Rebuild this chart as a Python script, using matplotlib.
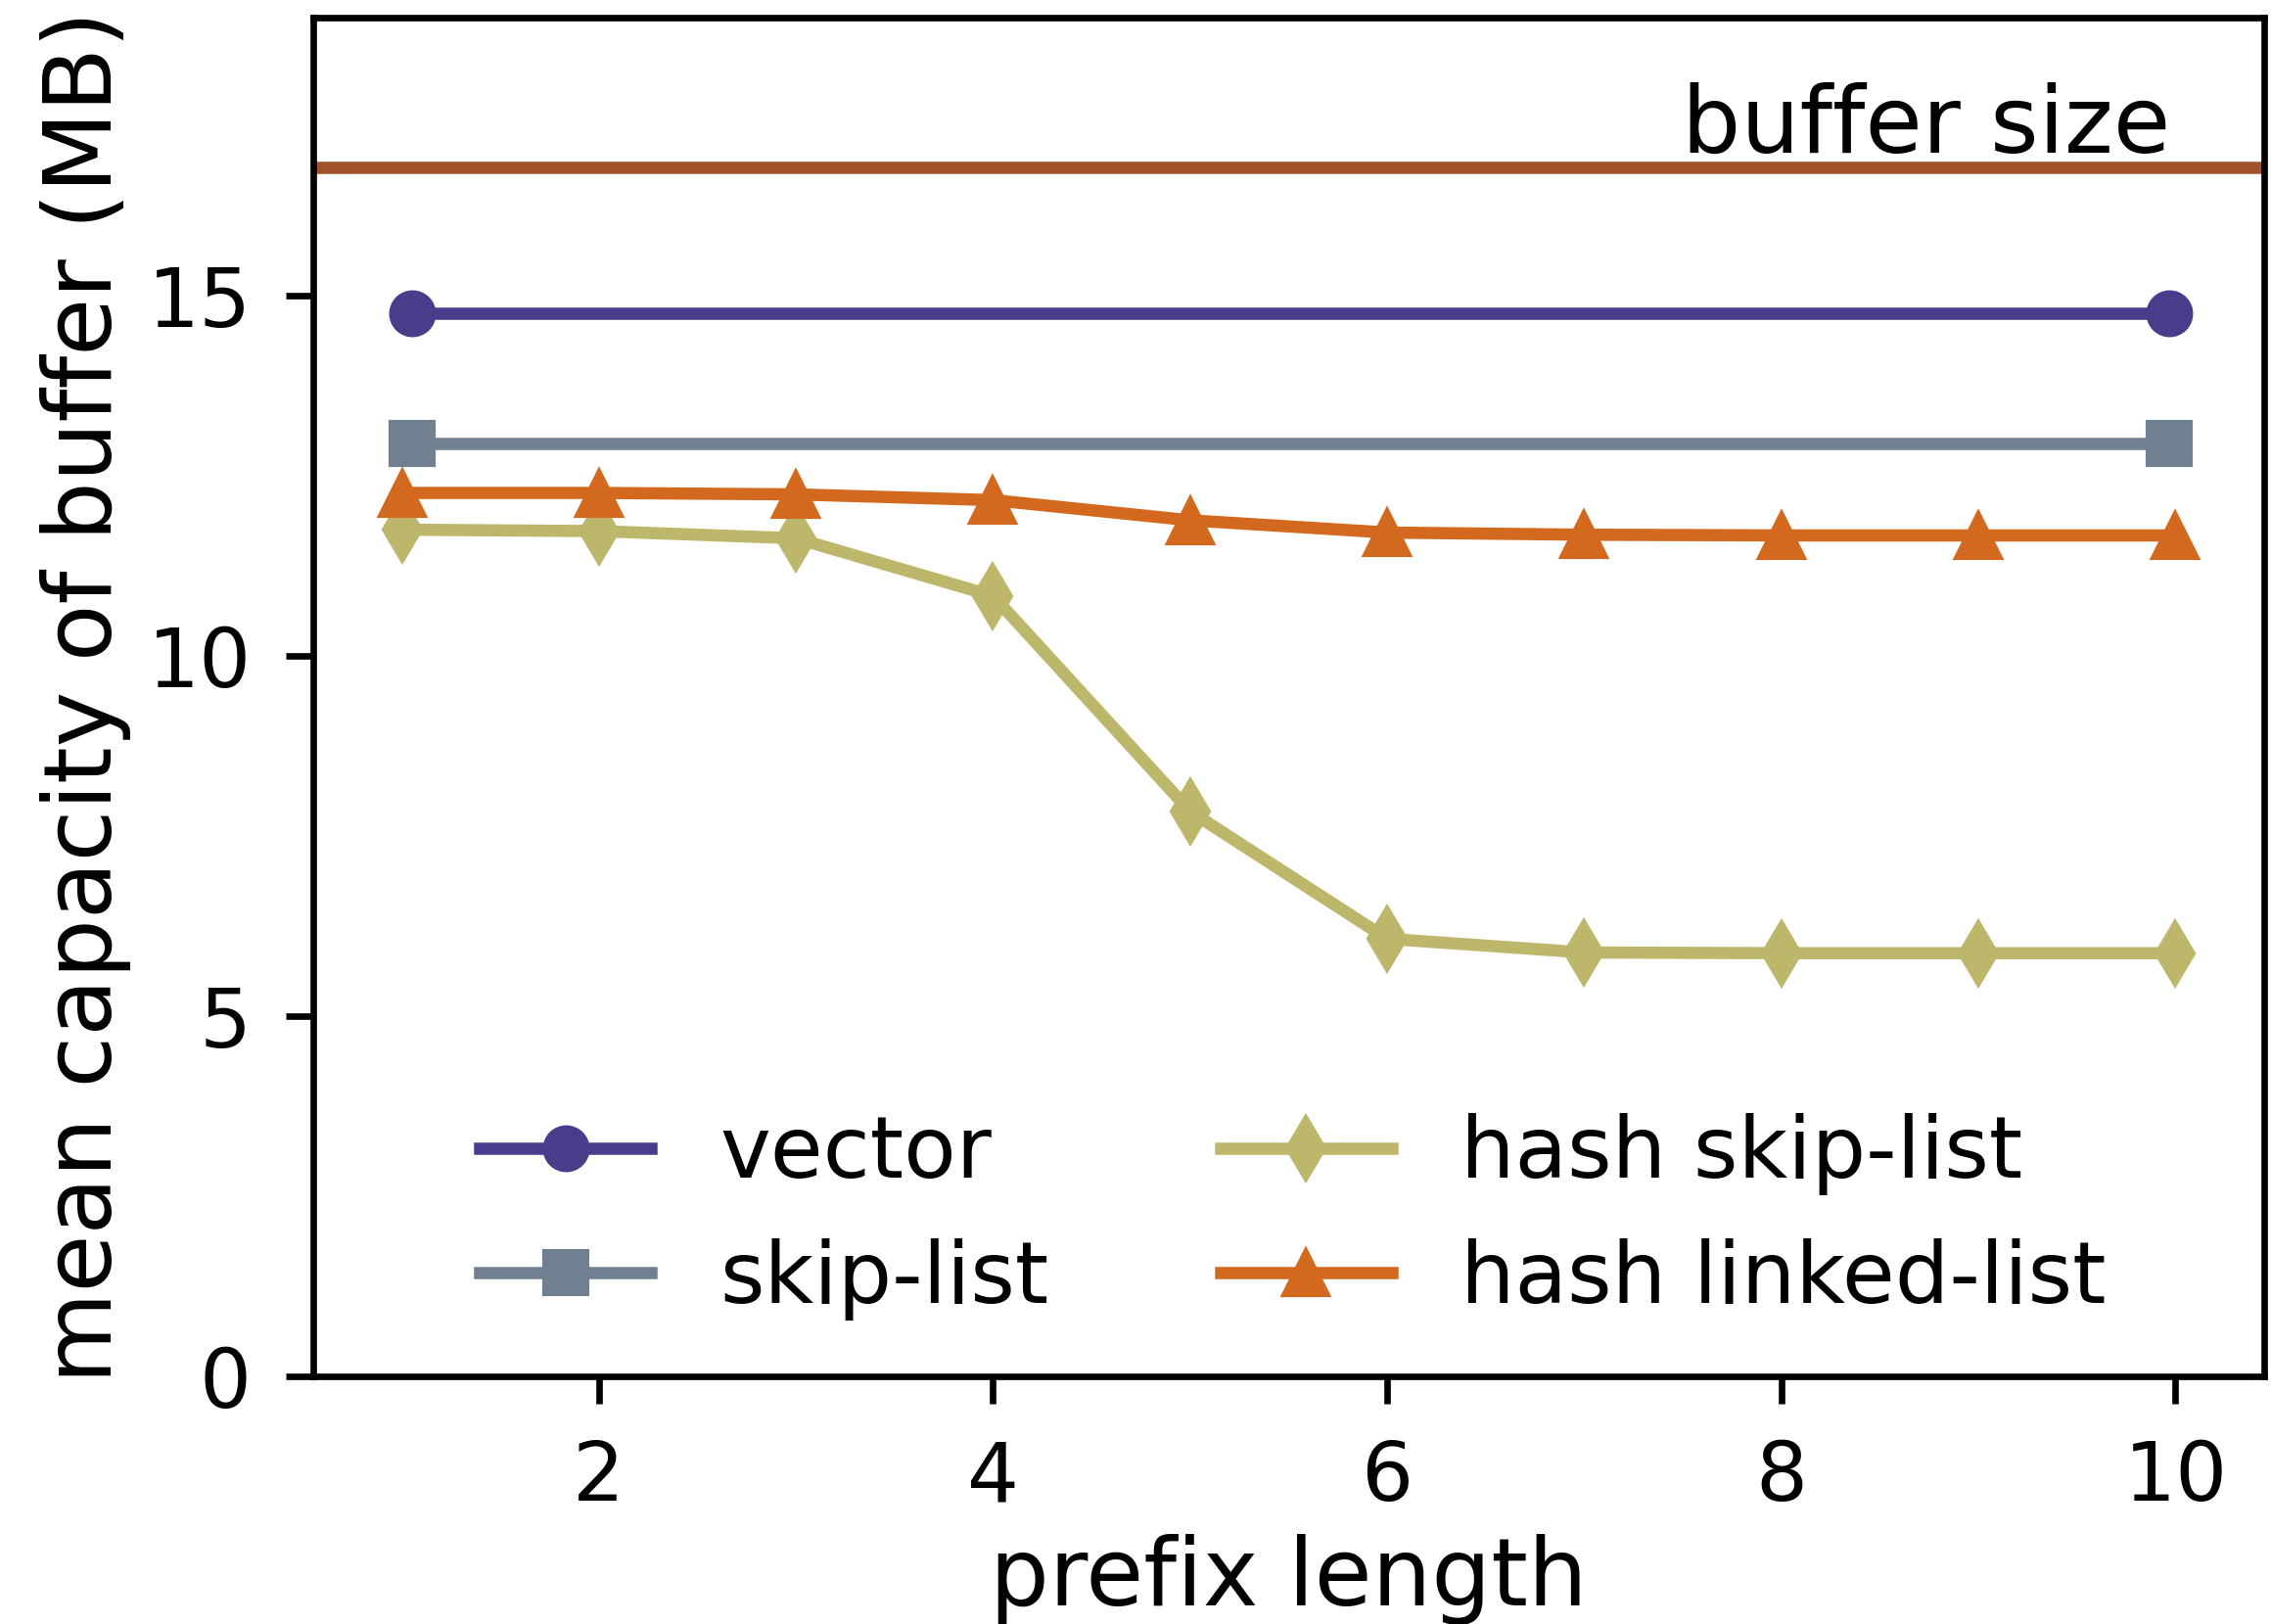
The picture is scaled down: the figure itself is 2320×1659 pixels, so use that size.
import matplotlib
matplotlib.use("Agg")
import matplotlib.pyplot as plt

# Prefix lengths for the hashed memtables
prefix_len = [1, 2, 3, 4, 5, 6, 7, 8, 9, 10]

# Flat series (prefix independent), drawn between their two end points
flat_x = [1.05, 9.97]
vector = [14.76, 14.76]
skip_list = [12.95, 12.95]

hash_skip_list = [11.75, 11.73, 11.63, 10.83, 7.84, 6.07, 5.88, 5.87, 5.87, 5.87]
hash_linked_list = [12.26, 12.26, 12.24, 12.16, 11.88, 11.71, 11.68, 11.67, 11.67, 11.67]

buffer_size = 16.78

plt.rcParams["font.family"] = "DejaVu Sans"

fig = plt.figure(figsize=(2320 / 300, 1659 / 300), dpi=300)
ax = fig.add_axes([0.1379, 0.1527, 0.8591, 0.8365])

lw = 3
ms = 10.5
ax.plot(flat_x, vector, color="#483D8B", lw=lw, marker="o", ms=ms, label="vector")
ax.plot(flat_x, skip_list, color="#708090", lw=lw, marker="s", ms=ms, label="skip-list")
ax.plot(prefix_len, hash_skip_list, color="#BDB76B", lw=lw, marker="d", ms=ms + 0.5,
        label="hash skip-list")
ax.plot(prefix_len, hash_linked_list, color="#D2691E", lw=lw, marker="^", ms=ms + 0.5,
        label="hash linked-list")

ax.axhline(buffer_size, color="#A0522D", lw=lw)
ax.text(9.975, buffer_size + 0.2, "buffer size", ha="right", va="baseline", fontsize=22.8)

ax.set_xlim(0.55, 10.45)
ax.set_ylim(0, 18.86)
ax.set_xticks([2, 4, 6, 8, 10])
ax.set_yticks([0, 5, 10, 15])
ax.tick_params(labelsize=20, length=6.7, width=1.6, pad=8.5)
for s in ax.spines.values():
    s.set_linewidth(1.6)

ax.set_xlabel("prefix length", fontsize=23)
ax.set_ylabel("mean capacity of buffer (MB)", fontsize=23)

ax.legend(ncol=2, frameon=False, fontsize=21, loc="lower left",
          bbox_to_anchor=(0.046, -0.016), handlelength=2.0, columnspacing=2.0)

fig.savefig("out.png", dpi=300)
